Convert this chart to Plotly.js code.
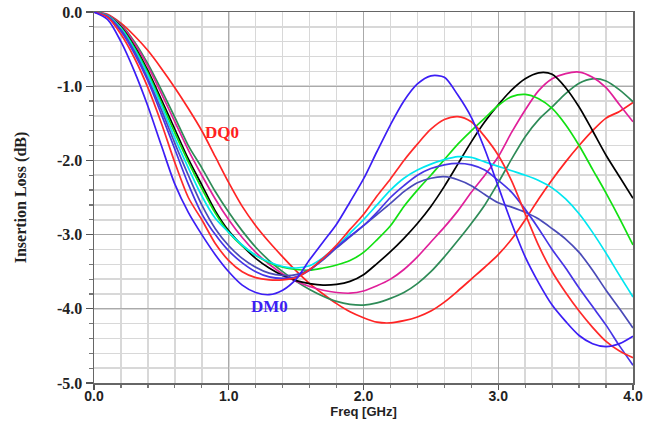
<!DOCTYPE html>
<html>
<head>
<meta charset="utf-8">
<script src="https://cdn.plot.ly/plotly-3.0.1.min.js"></script>
<style>html,body{margin:0;padding:0;background:#fff;}#chart{width:652px;height:423px;}</style>
</head>
<body>
<div id="chart"></div>
<script>
// Frequency axis (GHz)
const freq = [0.0,0.1,0.2,0.3,0.4,0.5,0.6,0.7,0.8,0.9,1.0,1.1,1.2,1.3,1.4,1.5,1.6,1.7,1.8,1.9,2.0,
              2.1,2.2,2.3,2.4,2.5,2.6,2.7,2.8,2.9,3.0,3.1,3.2,3.3,3.4,3.5,3.6,3.7,3.8,3.9,4.0];

// Insertion loss (dB) per curve
const dm0 = [0,-0.10,-0.40,-0.80,-1.27,-1.80,-2.32,-2.70,-3.00,-3.27,-3.50,-3.68,-3.78,-3.81,-3.75,-3.60,-3.34,-3.10,-2.86,-2.56,-2.25,
             -1.88,-1.52,-1.20,-0.97,-0.86,-0.88,-1.12,-1.42,-1.85,-2.35,-2.85,-3.30,-3.65,-3.95,-4.17,-4.36,-4.47,-4.51,-4.47,-4.37];
const red2 = [0,-0.07,-0.30,-0.62,-1.02,-1.50,-2.03,-2.50,-2.80,-3.12,-3.35,-3.50,-3.58,-3.61,-3.61,-3.58,-3.47,-3.32,-3.14,-2.93,-2.73,
              -2.48,-2.25,-2.00,-1.78,-1.58,-1.45,-1.41,-1.48,-1.68,-1.93,-2.28,-2.72,-3.15,-3.50,-3.78,-4.03,-4.25,-4.44,-4.57,-4.66];
const blue2 = [0,-0.06,-0.26,-0.56,-0.93,-1.38,-1.85,-2.32,-2.72,-3.00,-3.22,-3.38,-3.50,-3.57,-3.59,-3.57,-3.48,-3.32,-3.17,-3.02,-2.88,
               -2.70,-2.50,-2.34,-2.20,-2.11,-2.06,-2.04,-2.06,-2.13,-2.27,-2.43,-2.66,-2.92,-3.20,-3.45,-3.72,-3.97,-4.22,-4.50,-4.76];
const slate = [0,-0.06,-0.24,-0.53,-0.90,-1.32,-1.77,-2.20,-2.60,-2.92,-3.15,-3.32,-3.44,-3.52,-3.55,-3.54,-3.47,-3.34,-3.18,-3.03,-2.88,
               -2.73,-2.58,-2.42,-2.30,-2.24,-2.22,-2.26,-2.34,-2.46,-2.57,-2.63,-2.70,-2.79,-2.92,-3.06,-3.24,-3.48,-3.75,-4.00,-4.26];
const cyan = [0,-0.05,-0.22,-0.50,-0.85,-1.26,-1.70,-2.10,-2.48,-2.78,-2.97,-3.14,-3.28,-3.37,-3.43,-3.45,-3.42,-3.31,-3.16,-2.98,-2.80,
              -2.60,-2.40,-2.24,-2.13,-2.05,-1.99,-1.95,-1.96,-2.02,-2.08,-2.14,-2.20,-2.27,-2.37,-2.52,-2.72,-2.97,-3.25,-3.55,-3.84];
const green = [0,-0.05,-0.21,-0.48,-0.82,-1.22,-1.63,-2.02,-2.38,-2.71,-2.97,-3.15,-3.28,-3.38,-3.44,-3.47,-3.48,-3.45,-3.41,-3.35,-3.24,
               -3.07,-2.88,-2.62,-2.40,-2.20,-1.99,-1.78,-1.60,-1.43,-1.26,-1.14,-1.11,-1.17,-1.30,-1.52,-1.80,-2.12,-2.44,-2.78,-3.14];
const black = [0,-0.05,-0.20,-0.46,-0.79,-1.18,-1.58,-1.98,-2.33,-2.68,-2.95,-3.15,-3.32,-3.45,-3.55,-3.62,-3.66,-3.68,-3.67,-3.63,-3.54,
               -3.39,-3.23,-3.05,-2.85,-2.62,-2.35,-2.05,-1.75,-1.48,-1.25,-1.05,-0.90,-0.82,-0.84,-1.02,-1.28,-1.60,-1.93,-2.22,-2.51];
const magenta = [0,-0.04,-0.18,-0.42,-0.73,-1.10,-1.48,-1.86,-2.20,-2.52,-2.80,-3.04,-3.24,-3.40,-3.53,-3.63,-3.70,-3.75,-3.78,-3.79,-3.76,
                 -3.69,-3.60,-3.47,-3.30,-3.10,-2.90,-2.68,-2.43,-2.20,-1.95,-1.62,-1.32,-1.06,-0.90,-0.83,-0.81,-0.88,-1.02,-1.25,-1.48];
const dkgreen = [0,-0.04,-0.17,-0.40,-0.70,-1.05,-1.42,-1.80,-2.10,-2.42,-2.70,-2.95,-3.17,-3.35,-3.50,-3.63,-3.74,-3.83,-3.90,-3.94,-3.95,
                 -3.92,-3.86,-3.78,-3.66,-3.50,-3.30,-3.08,-2.85,-2.60,-2.30,-1.98,-1.68,-1.45,-1.28,-1.10,-0.96,-0.90,-0.93,-1.05,-1.21];
const dq0 = [0,-0.03,-0.15,-0.32,-0.52,-0.76,-1.02,-1.30,-1.60,-1.95,-2.30,-2.62,-2.88,-3.10,-3.30,-3.49,-3.66,-3.80,-3.93,-4.04,-4.12,
             -4.18,-4.19,-4.16,-4.11,-4.03,-3.91,-3.76,-3.60,-3.44,-3.27,-3.06,-2.80,-2.52,-2.26,-2.02,-1.80,-1.60,-1.43,-1.34,-1.22];

const seriesNames = ['DQ0','dkgreen','magenta','black','green','cyan','slate','blue2','red2','DM0'];
const seriesData  = [dq0, dkgreen, magenta, black, green, cyan, slate, blue2, red2, dm0];
const seriesColors = ['#ff2424','#2e8b57','#e0209a','#000000','#12e012','#00e6f0','#4a4ab8','#4634e6','#ff2a2a','#3c1ef5'];

const xTickVals = [0,1,2,3,4];
const xTickText = ['0.0','1.0','2.0','3.0','4.0'];
const yTickVals = [0,-1,-2,-3,-4,-5];
const yTickText = ['0.0','-1.0','-2.0','-3.0','-4.0','-5.0'];

const labelText = ['DQ0','DM0'];
const labelX = [0.95, 1.3];
const labelY = [-1.63, -3.97];
const labelColor = ['#ff2020','#3c1ef5'];

const traces = seriesData.map((ys, i) => ({
  x: freq, y: ys, type: 'scatter', mode: 'lines', name: seriesNames[i],
  line: {color: seriesColors[i], width: 1.7, shape: 'spline', smoothing: 0.8},
  hoverinfo: 'skip'
}));

const serifTick = {family: 'Liberation Serif, Times New Roman, serif', size: 16, weight: 'bold', color: '#222'};
const serifTitle = {family: 'Liberation Serif, Times New Roman, serif', size: 16, weight: 'bold', color: '#222'};
const sansTick = {family: 'Liberation Sans, Arial, sans-serif', size: 14, weight: 'bold', color: '#222'};
const sansTitle = {family: 'Liberation Sans, Arial, sans-serif', size: 13, weight: 'bold', color: '#222'};

const layout = {
  width: 652, height: 423,
  margin: {l: 94, r: 19, t: 12, b: 40},
  paper_bgcolor: '#fff', plot_bgcolor: '#fff',
  showlegend: false,
  xaxis: {
    range: [0, 4], tickmode: 'array', tickvals: xTickVals, ticktext: xTickText,
    ticks: 'outside', ticklen: 5, tickwidth: 1.2, tickcolor: '#555', ticklabelstandoff: -5,
    showline: true, linecolor: '#666', linewidth: 1.5, mirror: true,
    showgrid: true, gridcolor: '#aaaaaa', gridwidth: 1.2, zeroline: false,
    minor: {tickmode: 'linear', tick0: 0, dtick: 0.2, ticks: 'outside', ticklen: 3, tickcolor: '#777',
            showgrid: true, gridcolor: '#d8d8d8', gridwidth: 1.5},
    tickfont: sansTick,
    title: {text: 'Freq [GHz]', font: sansTitle, standoff: 2}
  },
  yaxis: {
    range: [-5, 0], tickmode: 'array', tickvals: yTickVals, ticktext: yTickText,
    ticks: 'outside', ticklen: 7, tickwidth: 1.2, tickcolor: '#555',
    showline: true, linecolor: '#666', linewidth: 1.5, mirror: true,
    showgrid: true, gridcolor: '#aaaaaa', gridwidth: 1.2, zeroline: false,
    minor: {tickmode: 'linear', tick0: 0, dtick: 0.2, ticks: 'outside', ticklen: 4, tickcolor: '#777',
            showgrid: true, gridcolor: '#d8d8d8', gridwidth: 1.5},
    tickfont: serifTick,
    title: {text: 'Insertion Loss (dB)', font: serifTitle, standoff: 26}
  },
  annotations: labelText.map((t, i) => ({
    x: labelX[i], y: labelY[i], xref: 'x', yref: 'y', text: t, showarrow: false,
    font: {family: 'Liberation Serif, Times New Roman, serif', size: 17, weight: 'bold', color: labelColor[i]}
  }))
};

Plotly.newPlot('chart', traces, layout, {staticPlot: true, displayModeBar: false});
</script>
</body>
</html>
